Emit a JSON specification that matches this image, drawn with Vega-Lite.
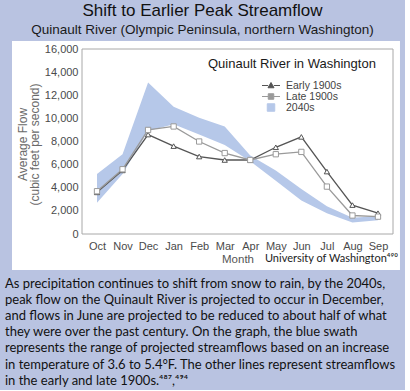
{
  "$schema": "https://vega.github.io/schema/vega-lite/v6.json",
  "background": "#b9c3e1",
  "padding": {"left": 5, "top": 2, "right": 5, "bottom": 2},
  "title": {
    "text": "Shift to Earlier Peak Streamflow",
    "subtitle": "Quinault River (Olympic Peninsula, northern Washington)",
    "anchor": "middle", "frame": "bounds",
    "font": "Liberation Sans", "fontSize": 17, "fontWeight": "normal", "color": "#111111",
    "subtitleFont": "Liberation Sans", "subtitleFontSize": 13.5, "subtitleColor": "#1a1a1a",
    "subtitlePadding": 3, "offset": 3
  },
  "datasets": {
    "lines": [
      {"series": "Early 1900s", "idx": 0, "month": "Oct", "value": 3600},
      {"series": "Early 1900s", "idx": 1, "month": "Nov", "value": 5500},
      {"series": "Early 1900s", "idx": 2, "month": "Dec", "value": 8600},
      {"series": "Early 1900s", "idx": 3, "month": "Jan", "value": 7600},
      {"series": "Early 1900s", "idx": 4, "month": "Feb", "value": 6700},
      {"series": "Early 1900s", "idx": 5, "month": "Mar", "value": 6400},
      {"series": "Early 1900s", "idx": 6, "month": "Apr", "value": 6400},
      {"series": "Early 1900s", "idx": 7, "month": "May", "value": 7500},
      {"series": "Early 1900s", "idx": 8, "month": "Jun", "value": 8400},
      {"series": "Early 1900s", "idx": 9, "month": "Jul", "value": 5400},
      {"series": "Early 1900s", "idx": 10, "month": "Aug", "value": 2500},
      {"series": "Early 1900s", "idx": 11, "month": "Sep", "value": 1800},
      {"series": "Late 1900s", "idx": 0, "month": "Oct", "value": 3700},
      {"series": "Late 1900s", "idx": 1, "month": "Nov", "value": 5600},
      {"series": "Late 1900s", "idx": 2, "month": "Dec", "value": 9000},
      {"series": "Late 1900s", "idx": 3, "month": "Jan", "value": 9300},
      {"series": "Late 1900s", "idx": 4, "month": "Feb", "value": 8000},
      {"series": "Late 1900s", "idx": 5, "month": "Mar", "value": 7000},
      {"series": "Late 1900s", "idx": 6, "month": "Apr", "value": 6400},
      {"series": "Late 1900s", "idx": 7, "month": "May", "value": 6900},
      {"series": "Late 1900s", "idx": 8, "month": "Jun", "value": 7100},
      {"series": "Late 1900s", "idx": 9, "month": "Jul", "value": 4100},
      {"series": "Late 1900s", "idx": 10, "month": "Aug", "value": 1600},
      {"series": "Late 1900s", "idx": 11, "month": "Sep", "value": 1500}
    ],
    "band": [
      {"idx": 0, "month": "Oct", "lo": 2700, "hi": 5200},
      {"idx": 1, "month": "Nov", "lo": 5200, "hi": 6900},
      {"idx": 2, "month": "Dec", "lo": 8900, "hi": 13100},
      {"idx": 3, "month": "Jan", "lo": 9500, "hi": 11000},
      {"idx": 4, "month": "Feb", "lo": 8600, "hi": 10050},
      {"idx": 5, "month": "Mar", "lo": 7700, "hi": 9300},
      {"idx": 6, "month": "Apr", "lo": 6300, "hi": 6800},
      {"idx": 7, "month": "May", "lo": 4600, "hi": 5500},
      {"idx": 8, "month": "Jun", "lo": 2900, "hi": 3900},
      {"idx": 9, "month": "Jul", "lo": 1800, "hi": 2400},
      {"idx": 10, "month": "Aug", "lo": 1000, "hi": 1400},
      {"idx": 11, "month": "Sep", "lo": 1200, "hi": 1550}
    ]
  },
  "vconcat": [
    {
      "width": 311,
      "height": 185,
      "title": {
        "text": [
          "As precipitation continues to shift from snow to rain, by the 2040s,",
          "peak flow on the Quinault River is projected to occur in December,",
          "and flows in June are projected to be reduced to about half of what",
          "they were over the past century. On the graph, the blue swath",
          "represents the range of projected streamflows based on an increase",
          "in temperature of 3.6 to 5.4°F. The other lines represent streamflows",
          "in the early and late 1900s.⁴⁸⁷,⁴⁹⁴"
        ],
        "orient": "bottom", "anchor": "start", "frame": "group", "align": "left",
        "baseline": "top", "dx": -77, "offset": 8,
        "font": "Lato", "fontSize": 13, "fontWeight": "normal", "color": "#111111",
        "lineHeight": 16.1
      },
      "layer": [
        {
          "data": {"values": [{}]},
          "mark": {"type": "rect", "fill": "white", "strokeWidth": 0},
          "encoding": {
            "x": {
              "datum": -3.327, "type": "quantitative",
              "scale": {"domain": [-0.587, 11.588], "nice": false, "zero": false},
              "axis": {
                "title": "Month", "values": [0,1,2,3,4,5,6,7,8,9,10,11], "tickCount": 30,
                "labelExpr": "['Oct','Nov','Dec','Jan','Feb','Mar','Apr','May','Jun','Jul','Aug','Sep'][datum.value]",
                "labelOverlap": false, "labelFlush": false,
                "domain": false, "ticks": false, "grid": false, "zindex": 1,
                "labelFont": "Liberation Sans", "labelFontSize": 11, "labelColor": "#4a4a4a", "labelPadding": 6,
                "titleFont": "Liberation Sans", "titleFontSize": 11.5, "titleFontWeight": "normal", "titleColor": "#555555", "titlePadding": 2
              }
            },
            "x2": {"datum": 11.861},
            "y": {
              "datum": -3114, "type": "quantitative",
              "scale": {"domain": [0, 16000], "nice": false, "zero": false},
              "axis": {
                "title": ["Average Flow", "(cubic feet per second)"],
                "values": [0, 2000, 4000, 6000, 8000, 10000, 12000, 14000, 16000], "tickCount": 30, "format": ",d",
                "labelOverlap": false, "labelFlush": false,
                "domain": false, "ticks": false, "grid": false, "zindex": 1,
                "labelFont": "Liberation Sans", "labelFontSize": 11, "labelColor": "#4a4a4a", "labelPadding": 4,
                "titleFont": "Liberation Sans", "titleFontSize": 12, "titleFontWeight": "normal", "titleColor": "#6a6a6a",
                "titleAngle": -90, "titleBaseline": "top", "titleAlign": "center", "titleX": -65, "titleY": 95, "titleLineHeight": 12
              }
            },
            "y2": {"datum": 16692}
          }
        },
        {
          "data": {"values": [{}]},
          "mark": {"type": "rect", "fill": null, "stroke": "#a8a8a8", "strokeWidth": 1},
          "encoding": {
            "x": {"datum": -0.587, "type": "quantitative"},
            "x2": {"datum": 11.588},
            "y": {"datum": 0, "type": "quantitative"},
            "y2": {"datum": 16000}
          }
        },
        {
          "data": {"name": "band"},
          "mark": {"type": "area", "opacity": 1},
          "encoding": {
            "x": {"field": "idx", "type": "quantitative"},
            "y": {"field": "lo", "type": "quantitative"},
            "y2": {"field": "hi"},
            "color": {"datum": "2040s", "type": "nominal"}
          }
        },
        {
          "data": {"name": "lines"},
          "mark": {"type": "line", "strokeWidth": 1.3},
          "encoding": {
            "x": {"field": "idx", "type": "quantitative"},
            "y": {"field": "value", "type": "quantitative"},
            "color": {
              "field": "series", "type": "nominal",
              "scale": {"domain": ["Early 1900s", "Late 1900s", "2040s"], "range": ["#555555", "#9a9a9a", "#b6c8e9"]},
              "legend": {
                "orient": "none", "legendX": 126, "legendY": 9, "direction": "vertical",
                "title": "Quinault River in Washington", "titleFont": "Liberation Sans", "titleFontSize": 13,
                "titleFontWeight": "normal", "titleColor": "#1a1a1a", "titlePadding": 9,
                "labelFont": "Liberation Sans", "labelFontSize": 10.5, "labelColor": "#444444",
                "symbolSize": 100, "rowPadding": -1, "padding": 0,
                "encode": {
                  "labels": {"update": {"x": {"value": 78}, "align": {"value": "left"}}},
                  "symbols": {"update": {
                    "x": {"value": 63},
                    "shape": {"signal": "datum.value === 'Early 1900s' ? 'M-1.8,0H-0.58M0.58,0H1.8M-0.6,0.45L0,-0.6L0.6,0.45Z' : datum.value === 'Late 1900s' ? 'M-1.8,0H-0.55M0.55,0H1.8M-0.55,-0.55H0.55V0.55H-0.55Z' : 'M-0.75,-0.75H0.75V0.75H-0.75Z'"},
                    "fill": {"signal": "datum.value === '2040s' ? '#b6c8e9' : '#ffffff'"},
                    "stroke": {"signal": "datum.value === 'Early 1900s' ? '#555555' : datum.value === 'Late 1900s' ? '#9a9a9a' : '#b6c8e9'"},
                    "strokeWidth": {"value": 1},
                    "opacity": {"value": 1},
                    "fillOpacity": {"value": 1}
                  }}
                }
              }
            },
            "detail": {"field": "series"}
          }
        },
        {
          "data": {"name": "lines"},
          "mark": {"type": "point", "filled": true, "fill": "white", "strokeWidth": 1, "size": 28, "opacity": 1, "fillOpacity": 1},
          "encoding": {
            "x": {"field": "idx", "type": "quantitative"},
            "y": {"field": "value", "type": "quantitative"},
            "stroke": {"field": "series", "type": "nominal", "scale": {"domain": ["Early 1900s", "Late 1900s"], "range": ["#555555", "#9a9a9a"]}, "legend": null},
            "shape": {"field": "series", "type": "nominal", "scale": {"domain": ["Early 1900s", "Late 1900s"], "range": ["triangle-up", "square"]}, "legend": null}
          }
        },
        {
          "data": {"values": [{"t": "University of Washington⁴⁹⁰"}]},
          "mark": {"type": "text", "align": "right", "baseline": "middle", "font": "Lato", "fontSize": 11, "color": "#222222"},
          "encoding": {
            "text": {"field": "t"},
            "x": {"datum": 11.78, "type": "quantitative"},
            "y": {"datum": -2160, "type": "quantitative"}
          }
        }
      ]
    }
  ],
  "config": {"view": {"stroke": null}, "concat": {"spacing": 0}, "axis": {"labelOverlap": false}}
}
